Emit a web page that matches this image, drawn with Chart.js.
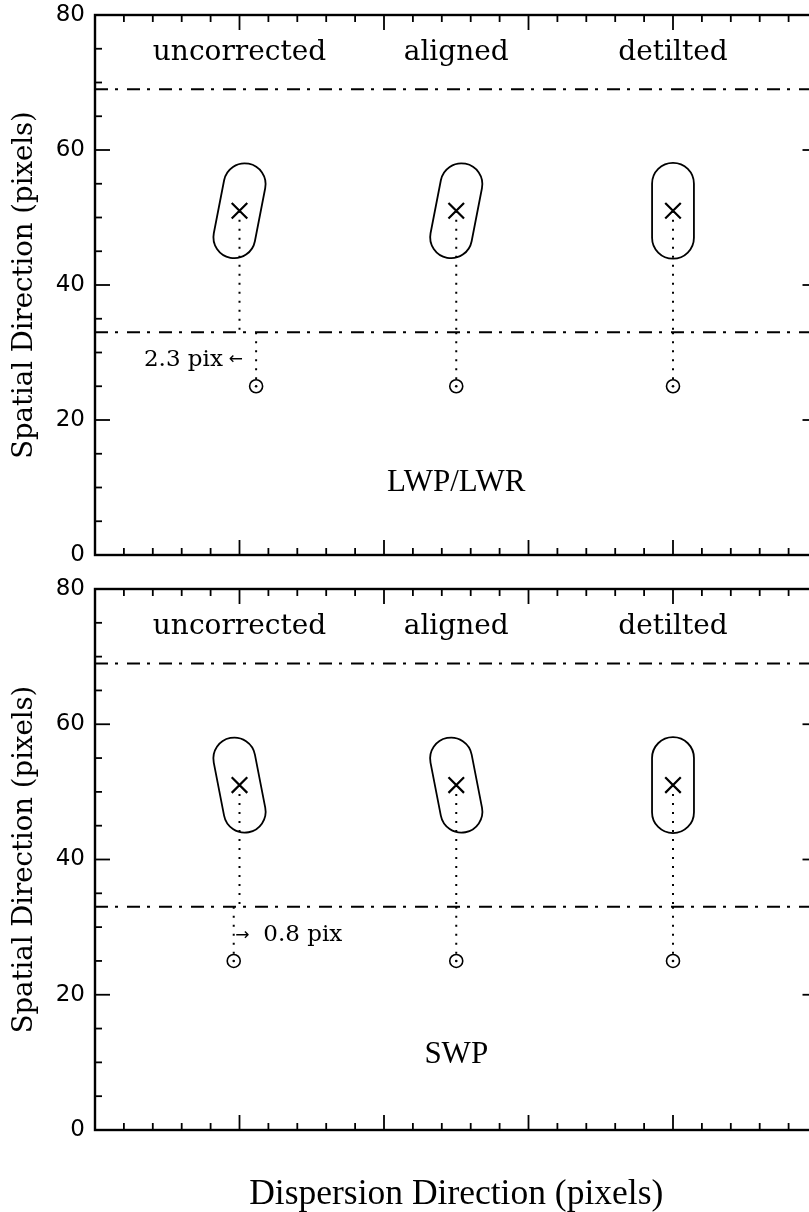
<!DOCTYPE html>
<html>
<head>
<meta charset="utf-8">
<script src="https://cdn.jsdelivr.net/npm/chart.js@4.4.1/dist/chart.umd.min.js"></script>
<style>
html, body { margin: 0; padding: 0; background: #fff; overflow: hidden; width: 809px; height: 1212px; }
canvas { position: absolute; left: 0; }
#c1 { top: 0; }
#c2 { top: 574px; }
</style>
</head>
<body>
<canvas id="c1" width="822" height="570"></canvas>
<canvas id="c2" width="822" height="638"></canvas>
<script>
// dispersion columns of the three versions of the image
const columns = [20, 50, 80];
const columnLabels = ['uncorrected', 'aligned', 'detilted'];
const centroidRow = 51;     // x marks
const traceRow = 25;        // small circles
const apertureRows = [69, 33];
// tilt of the extraction slit (deg, + = top leans right)
const tiltLW = [11, 11, 0];
const tiltSW = [-11, -11, 0];
// column where the trace sits below the aperture
const traceLW = [22.3, 50, 80];
const traceSW = [19.2, 50, 80];
const shiftLW = '2.3 pix';
const shiftSW = '0.8 pix';
const yTicks = [0, 20, 40, 60, 80];

const capsuleRadius = 3.1;      // y units
const capsuleHalfLength = 4.0;  // y units
const labelRow = 74.4;

Chart.defaults.font.family = 'DejaVu Sans';
Chart.defaults.color = '#000';

function line(ctx, x1, y1, x2, y2) {
    ctx.beginPath();
    ctx.moveTo(x1, y1);
    ctx.lineTo(x2, y2);
    ctx.stroke();
}

function makePanel(id, tilts, traceX, name, nameRow, shift, showXTitle) {
    const datasets = [];

    // aperture limits (dash-dot)
    apertureRows.forEach(r => datasets.push({
        data: [{ x: 0, y: r }, { x: 100, y: r }],
        showLine: true, borderColor: '#000', borderWidth: 2,
        borderDash: [13, 7, 3, 9], pointRadius: 0
    }));

    // dotted drops from centroid to aperture edge, then to the trace
    columns.forEach((c, i) => {
        datasets.push({
            data: [{ x: c, y: centroidRow }, { x: c, y: apertureRows[1] }],
            showLine: true, borderColor: '#000', borderWidth: 2,
            borderDash: [2, 7], pointRadius: 0
        });
        datasets.push({
            data: [{ x: traceX[i], y: apertureRows[1] }, { x: traceX[i], y: traceRow }],
            showLine: true, borderColor: '#000', borderWidth: 2,
            borderDash: [2, 7], pointRadius: 0
        });
    });

    datasets.push({
        data: columns.map(c => ({ x: c, y: centroidRow })),
        pointStyle: 'crossRot', pointRadius: 11, borderWidth: 2.2,
        borderColor: '#000', backgroundColor: '#000'
    });
    datasets.push({
        data: traceX.map(c => ({ x: c, y: traceRow })),
        pointStyle: 'circle', pointRadius: 6.5, borderWidth: 1.6,
        borderColor: '#000', backgroundColor: 'rgba(0,0,0,0)'
    });
    datasets.push({
        data: traceX.map(c => ({ x: c, y: traceRow })),
        pointStyle: 'circle', pointRadius: 1.3, borderWidth: 0,
        backgroundColor: '#000'
    });

    const panelPlugin = {
        id: 'panel',
        afterDatasetsDraw(chart) {
            const { ctx, scales: { x, y } } = chart;
            const unit = Math.abs(y.getPixelForValue(1) - y.getPixelForValue(0));
            const r = capsuleRadius * unit;
            const h = capsuleHalfLength * unit;
            ctx.save();
            ctx.strokeStyle = '#000';
            ctx.lineWidth = 1.8;
            tilts.forEach((deg, i) => {
                ctx.save();
                ctx.translate(x.getPixelForValue(columns[i]), y.getPixelForValue(centroidRow));
                ctx.rotate(deg * Math.PI / 180);
                ctx.beginPath();
                ctx.arc(0, -h, r, Math.PI, 0);
                ctx.lineTo(r, h);
                ctx.arc(0, h, r, 0, Math.PI);
                ctx.closePath();
                ctx.stroke();
                ctx.restore();
            });

            ctx.fillStyle = '#000';
            ctx.textBaseline = 'middle';
            ctx.textAlign = 'center';
            ctx.font = '28px "DejaVu Serif"';
            columnLabels.forEach((t, i) => {
                ctx.fillText(t, x.getPixelForValue(columns[i]), y.getPixelForValue(labelRow));
            });
            ctx.font = '31px "Liberation Serif"';
            ctx.fillText(name, x.getPixelForValue(50), y.getPixelForValue(nameRow));

            // shift annotation: text plus a small arrow
            const ty = y.getPixelForValue(shift.y);
            ctx.font = '23px "DejaVu Serif"';
            ctx.textAlign = shift.textAlign;
            ctx.fillText(shift.text, x.getPixelForValue(shift.textX), ty);
            ctx.font = '17px "DejaVu Sans"';
            ctx.textAlign = shift.arrowAlign;
            ctx.fillText(shift.arrow, x.getPixelForValue(shift.arrowX), ty);
            ctx.restore();
        },
        afterDraw(chart) {
            const { ctx, chartArea: a, scales: { x, y } } = chart;
            ctx.save();
            ctx.strokeStyle = '#000';
            ctx.lineWidth = 1.8;
            for (let v = 0; v <= 100; v += 4) {
                const px = x.getPixelForValue(v);
                const len = v % 20 === 0 ? 15 : 7;
                line(ctx, px, a.bottom, px, a.bottom - len);
                line(ctx, px, a.top, px, a.top + len);
            }
            for (let v = 0; v <= 80; v += 5) {
                const py = y.getPixelForValue(v);
                const len = v % 20 === 0 ? 15 : 7;
                line(ctx, a.left, py, a.left + len, py);
                line(ctx, a.right, py, a.right - len, py);
            }
            ctx.lineWidth = 2.4;
            ctx.strokeRect(a.left, a.top, a.right - a.left, a.bottom - a.top);
            ctx.restore();
        }
    };

    return new Chart(document.getElementById(id), {
        type: 'scatter',
        data: { datasets },
        options: {
            responsive: false,
            animation: false,
            layout: {
                autoPadding: false,
                padding: { top: 15, right: 4.5, left: 0, bottom: showXTitle ? 0 : 15 }
            },
            scales: {
                x: {
                    min: 0, max: 100,
                    display: showXTitle,
                    grid: { display: false, drawTicks: false },
                    border: { display: false },
                    ticks: { display: false },
                    title: {
                        display: showXTitle,
                        text: 'Dispersion Direction (pixels)',
                        font: { family: 'Liberation Serif', size: 35.5, lineHeight: 1 },
                        padding: { top: 0, bottom: 0 }
                    },
                    afterFit(scale) {
                        scale.height = showXTitle ? 82 : 0;
                        scale.paddingLeft = 0;
                        scale.paddingRight = 0;
                    }
                },
                y: {
                    min: 0, max: 80,
                    afterBuildTicks(scale) { scale.ticks = yTicks.map(v => ({ value: v })); },
                    grid: { display: false, drawTicks: false },
                    border: { display: false },
                    ticks: { padding: 10, font: { size: 23 } },
                    title: {
                        display: true,
                        text: 'Spatial Direction (pixels)',
                        font: { family: 'DejaVu Serif', size: 27.5, lineHeight: 1 },
                        padding: { top: 11, bottom: 0 }
                    },
                    afterFit(scale) {
                        scale.width = 95;
                        scale.paddingTop = 0;
                        scale.paddingBottom = 0;
                        scale.paddingLeft = 0;
                        scale.paddingRight = 0;
                    }
                }
            },
            plugins: { legend: { display: false }, tooltip: { enabled: false } }
        },
        plugins: [panelPlugin]
    });
}

makePanel('c1', tiltLW, traceLW, 'LWP/LWR', 10.7,
    { text: shiftLW, textX: 17.7, textAlign: 'right', arrow: '\u2190', arrowX: 20.5, arrowAlign: 'right', y: 28.9 }, false);
makePanel('c2', tiltSW, traceSW, 'SWP', 11.1,
    { text: shiftSW, textX: 23.3, textAlign: 'left', arrow: '\u2192', arrowX: 19.4, arrowAlign: 'left', y: 28.8 }, true);
</script>
</body>
</html>
